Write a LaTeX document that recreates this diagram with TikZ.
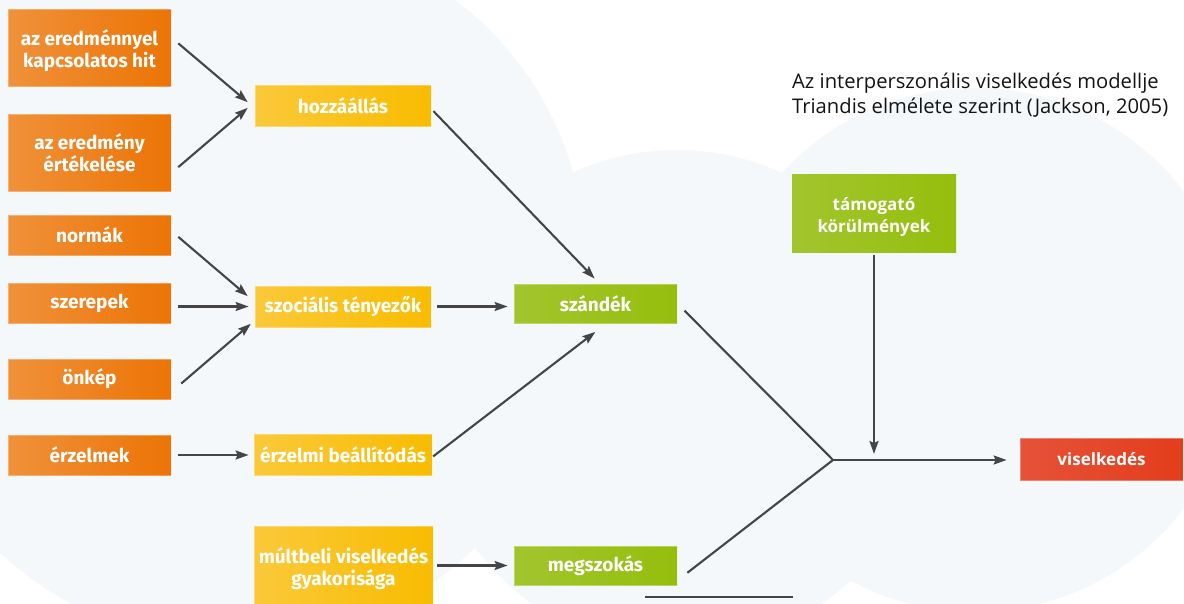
\documentclass[tikz,border=0pt]{standalone}
\usepackage{fontspec}
\usepackage{tikz}
\usetikzlibrary{arrows.meta,positioning}
\newfontfamily\boxfont{Fira Sans}
\newfontfamily\titlefont{Open Sans}
\definecolor{cloud}{HTML}{F4F8FB}
\definecolor{orL}{HTML}{F0913A}
\definecolor{orR}{HTML}{EC7405}
\definecolor{yeL}{HTML}{FAC93A}
\definecolor{yeR}{HTML}{F8BC00}
\definecolor{grL}{HTML}{A2C52E}
\definecolor{grR}{HTML}{95BE0C}
\definecolor{reL}{HTML}{E65238}
\definecolor{reR}{HTML}{E33D1C}
\definecolor{arrowgray}{HTML}{454545}

\begin{document}
\begin{tikzpicture}[x=1pt,y=-1pt,
	box/.style={rectangle, inner sep=0pt, minimum width=163pt, minimum height=40pt, text=white, align=center,
		draw=white, draw opacity=0.3, line width=0.8pt, font=\boxfont\bfseries\fontsize{19}{22}\selectfont},
	orangebox/.style={box, left color=orL, right color=orR},
	yellowbox/.style={box, minimum width=176pt, minimum height=41pt, left color=yeL, right color=yeR},
	greenbox/.style={box, minimum height=39pt, left color=grL, right color=grR},
	redbox/.style={box, minimum height=42pt, left color=reL, right color=reR, font=\titlefont\bfseries\fontsize{17}{22}\selectfont},
	arr/.style={draw=arrowgray, line width=2.1pt, -{Stealth[length=13pt,width=9pt,inset=2pt]}},
	ln/.style={draw=arrowgray, line width=2.1pt}]
		\useasboundingbox (0,0) rectangle (1184,603);
		\clip (0,0) rectangle (1184,603);
		\fill[white] (0,0) rectangle (1184,603);
		\fill[cloud] (235,300) circle (345pt) (60,120) circle (200pt) (260,260) circle (325pt)
			(677,400) circle (250pt) (975,350) circle (262pt);

		\node[orangebox, minimum height=77pt, text height=42pt, text depth=2pt] (hit) at (89.5,47.5) {az eredménnyel\\kapcsolatos hit};
		\node[orangebox, minimum height=77pt] (ertek) at (89.5,152.5) {az eredmény\\értékelése};
		\node[orangebox] (normak) at (89.5,235) {normák};
		\node[orangebox] (szerepek) at (89.5,303) {szerepek};
		\node[orangebox] (onkep) at (89.5,379) {önkép};
		\node[orangebox] (erzelmek) at (89.5,455) {érzelmek};

		\node[yellowbox] (hozzaallas) at (343,105.5) {hozzáállás};
		\node[yellowbox] (szocialis) at (343,306.5) {szociális tényezők};
		\node[yellowbox, minimum width=178pt] (beallitodas) at (343,454.5) {érzelmi beállítódás};
		\node[yellowbox, minimum width=179pt, minimum height=86pt] (multbeli) at (343.5,569) {múltbeli viselkedés\\gyakorisága};

		\node[greenbox] (szandek) at (595.5,303.5) {szándék};
		\node[greenbox] (megszokas) at (595.5,565.5) {megszokás};
		\node[greenbox, minimum width=164pt, minimum height=78pt, draw=none, fill=grR, text height=40pt, text depth=2pt,
			font=\titlefont\bfseries\fontsize{17}{22}\selectfont] (tamogato) at (874,213) {támogató\\körülmények};
		\node[redbox] (viselkedes) at (1101.5,459) {viselkedés};

		\node[anchor=north west, align=left, inner sep=0pt, text=black!92,
			font=\titlefont\fontsize{20.2}{25}\selectfont] (cim) at (792,73)
			{Az interperszonális viselkedés modellje\\Triandis elmélete szerint (Jackson, 2005)};

		\coordinate (junction) at (833,460);
		\coordinate (vonalA) at (645,597);
		\coordinate (vonalB) at (793,597);

		% into the second column
		\draw[arr, shorten <=9pt, shorten >=9pt] ([yshift=10pt]hit.east) -- ([yshift=-2.5pt]hozzaallas.west);
		\draw[arr, shorten <=9pt, shorten >=9pt] ([yshift=-20.5pt]ertek.east) -- ([yshift=3.5pt]hozzaallas.west);
		\draw[arr, shorten <=9pt, shorten >=9pt] ([yshift=4pt]normak.east) -- ([yshift=4.5pt]szocialis.west);
		\draw[arr, shorten <=7pt, shorten >=6pt] (szerepek.east |- szocialis.west) -- (szocialis.west);
		\draw[arr, shorten <=13pt, shorten >=5pt] ([yshift=-13pt]onkep.east) -- ([yshift=-14pt]szocialis.west);
		\draw[arr, shorten <=7pt, shorten >=5pt] (erzelmek.east) -- (erzelmek.east -| beallitodas.west);

		% into the third column
		\draw[arr, shorten <=3pt, shorten >=7pt] ([yshift=-3.5pt]hozzaallas.east) -- ([xshift=4pt]szandek.north);
		\draw[arr, shorten <=6pt, shorten >=6pt] (szocialis.east) -- (szocialis.east -| szandek.west);
		\draw[arr, shorten <=1pt, shorten >=14pt] ([yshift=-2.5pt]beallitodas.east) -- ([xshift=11pt]szandek.south);
		\draw[arr, shorten <=4pt, shorten >=6pt] (megszokas.west -| multbeli.east) -- (megszokas.west);

		% towards behaviour
		\draw[ln, shorten <=10pt] (szandek.east) -- (junction);
		\draw[ln, shorten <=12.6pt] ([yshift=-15pt]megszokas.east) -- (junction);
		\draw[arr, shorten >=13pt] (junction) -- (junction -| viselkedes.west);
		\draw[arr, shorten <=3pt, shorten >=6pt] (tamogato.south) -- (tamogato.south |- junction);

		\draw[ln, line width=1.4pt] (vonalA) -- (vonalB);
	\end{tikzpicture}
\end{document}
